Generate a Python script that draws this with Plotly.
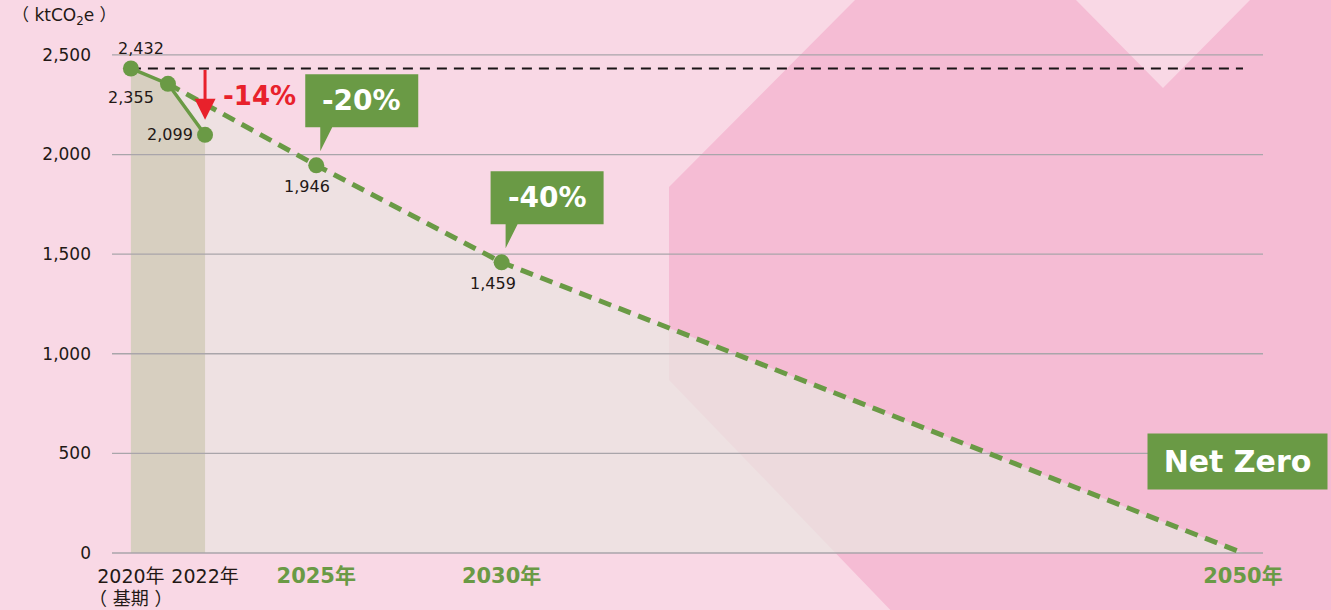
import plotly.graph_objects as go

# ---------------- data ----------------
ACTUAL_YEARS = [2020, 2021, 2022]
ACTUAL_VALUES = [2432, 2355, 2099]
TARGET_YEARS = [2025, 2030, 2050]
TARGET_VALUES = [1946, 1459, 0]
TARGET_LABELS = ["-20%", "-40%", "Net Zero"]
BASE_VALUE = 2432
BASE_NOTE = "（ 基期 ）"
REDUCTION_2022 = "-14%"
Y_TICKS = [0, 500, 1000, 1500, 2000, 2500]
X_TICK_YEARS = [2020, 2022, 2025, 2030, 2050]
X_TICK_TEXT = ["2020年", "2022年", "2025年", "2030年", "2050年"]
Y_UNIT = "（ ktCO<sub>2</sub>e ）"

# ---------------- style ----------------
GREEN = "#6a9a45"
DARK = "#231815"
RED = "#e8212b"
BG = "#f9d8e5"
SHAPE_PINK = "#f5bcd4"
GRID = "#a9a5aa"
FONT = "DejaVu Sans, Noto Sans CJK JP, sans-serif"

W, H = 1331, 610
M_L, M_R, M_T, M_B = 112, 68, 35, 55
X_RANGE = [2019.49, 2050.54]
Y_RANGE = [-10, 2600]
ARROW_TIP = 2175

fig = go.Figure()

# light fill under the reduction path
path_x = ACTUAL_YEARS[:2] + TARGET_YEARS
path_y = ACTUAL_VALUES[:2] + TARGET_VALUES
fig.add_trace(go.Scatter(x=path_x, y=path_y, fill="tozeroy",
                         fillcolor="rgba(234,228,224,0.75)", mode="lines",
                         line=dict(width=0), hoverinfo="skip"))
# darker fill under actual emissions
fig.add_trace(go.Scatter(x=ACTUAL_YEARS, y=ACTUAL_VALUES, fill="tozeroy",
                         fillcolor="rgba(213,206,190,0.96)", mode="lines",
                         line=dict(width=0), hoverinfo="skip"))
# gridlines drawn above the fills
gx, gy = [], []
for v in Y_TICKS:
    gx += [X_RANGE[0], X_RANGE[1], None]
    gy += [v, v, None]
fig.add_trace(go.Scatter(x=gx, y=gy, mode="lines",
                         line=dict(color=GRID, width=1.3), hoverinfo="skip"))
# base year reference dashed line
fig.add_trace(go.Scatter(x=[ACTUAL_YEARS[0], TARGET_YEARS[-1]], y=[BASE_VALUE, BASE_VALUE],
                         mode="lines", line=dict(color="#1a1416", width=2, dash="10px,7px"),
                         hoverinfo="skip"))
# target path (dashed green)
fig.add_trace(go.Scatter(x=[ACTUAL_YEARS[1]] + TARGET_YEARS,
                         y=[ACTUAL_VALUES[1]] + TARGET_VALUES,
                         mode="lines", line=dict(color=GREEN, width=5, dash="13px,8px"),
                         hoverinfo="skip"))
# actual line
fig.add_trace(go.Scatter(x=ACTUAL_YEARS, y=ACTUAL_VALUES, mode="lines+markers",
                         line=dict(color=GREEN, width=3.5),
                         marker=dict(size=16, color=GREEN)))
# target markers
fig.add_trace(go.Scatter(x=TARGET_YEARS[:2], y=TARGET_VALUES[:2], mode="markers",
                         marker=dict(size=16, color=GREEN)))

# ---------------- background decoration ----------------
def px2paper(px, py):
    pw = W - M_L - M_R
    ph = H - M_T - M_B
    return (px - M_L) / pw, (H - M_B - py) / ph

bg_pts = [(855, 0), (1076, 0), (1163, 88), (1250, 0), (1340, 0), (1340, 620),
          (900, 620), (669, 380), (669, 187)]
path = ""
for i, (px, py) in enumerate(bg_pts):
    a, b = px2paper(px, py)
    path += ("M" if i == 0 else "L") + f"{a:.5f},{b:.5f} "
path += "Z"
fig.add_shape(type="path", path=path, xref="paper", yref="paper",
              fillcolor=SHAPE_PINK, line=dict(width=0), layer="below")

# ---------------- data labels ----------------
label_style = [  # (xshift, yshift, xanchor) for actual points
    (10, 20, "center"),
    (-37, -14, "center"),
    (-10, 0, "right"),
]
for (xv, yv), (xs, ys, xa) in zip(zip(ACTUAL_YEARS, ACTUAL_VALUES), label_style):
    fig.add_annotation(x=xv, y=yv, text=f"{yv:,}", showarrow=False,
                       xshift=xs, yshift=ys, xanchor=xa,
                       font=dict(size=16, color=DARK))
for xv, yv in zip(TARGET_YEARS[:2], TARGET_VALUES[:2]):
    fig.add_annotation(x=xv, y=yv, text=f"{yv:,}", showarrow=False,
                       xshift=-9, yshift=-21, font=dict(size=16, color=DARK))

# callouts for 2025 and 2030
callout = "M-11,38 L-11,91 L102,91 L102,38 L16,38 L4,14 L4,38 Z"
for xv, yv, lab in zip(TARGET_YEARS[:2], TARGET_VALUES[:2], TARGET_LABELS[:2]):
    fig.add_shape(type="path", path=callout, xref="x", yref="y",
                  xsizemode="pixel", ysizemode="pixel", xanchor=xv, yanchor=yv,
                  fillcolor=GREEN, line=dict(width=0), layer="above")
    fig.add_annotation(x=xv, y=yv, text=f"<b>{lab}</b>", showarrow=False,
                       xshift=45.5, yshift=64.5,
                       font=dict(size=28, color="white"))

# Net Zero box
fig.add_annotation(x=TARGET_YEARS[2], y=TARGET_VALUES[2], text=f"<b>{TARGET_LABELS[2]}</b>",
                   showarrow=False, xshift=-5.5, yshift=91.5, bgcolor=GREEN,
                   width=175, height=51, borderpad=2,
                   font=dict(size=30, color="white"))

# red arrow and -14%
fig.add_annotation(x=ACTUAL_YEARS[2], y=ARROW_TIP, ax=ACTUAL_YEARS[2], ay=BASE_VALUE,
                   xref="x", yref="y", axref="x", ayref="y", text="",
                   showarrow=True, arrowhead=2, arrowsize=1.4, arrowwidth=3,
                   arrowcolor=RED)
fig.add_annotation(x=ACTUAL_YEARS[2], y=ACTUAL_VALUES[2], text=f"<b>{REDUCTION_2022}</b>",
                   showarrow=False, xshift=54, yshift=39,
                   font=dict(size=26, color=RED))

# base-year note under the 2020 tick
fig.add_annotation(x=ACTUAL_YEARS[0], y=0, text=BASE_NOTE, showarrow=False,
                   yshift=-45, font=dict(size=18, color=DARK))

# unit label
ux, uy = px2paper(10, 17)
fig.add_annotation(x=ux, y=uy, xref="paper", yref="paper", text=Y_UNIT,
                   showarrow=False, xanchor="left", yanchor="middle",
                   font=dict(size=17, color=DARK))

# ---------------- axes ----------------
tick_text = []
for yr, t in zip(X_TICK_YEARS, X_TICK_TEXT):
    if yr in TARGET_YEARS:
        tick_text.append(f"<b><span style='color:{GREEN};font-size:21px'>{t}</span></b>")
    else:
        tick_text.append(t)

fig.update_layout(
    width=W, height=H,
    margin=dict(l=M_L, r=M_R, t=M_T, b=M_B, autoexpand=False),
    paper_bgcolor=BG, plot_bgcolor="rgba(0,0,0,0)",
    showlegend=False,
    font=dict(family=FONT, color=DARK, size=16),
)
fig.update_xaxes(range=X_RANGE, tickvals=X_TICK_YEARS, ticktext=tick_text,
                 showgrid=False, zeroline=False, showline=False, ticks="",
                 tickfont=dict(size=19, color=DARK), ticklabelstandoff=8,
                 automargin=False, fixedrange=True)
fig.update_yaxes(range=Y_RANGE, tickvals=Y_TICKS, tickformat=",",
                 showgrid=False, zeroline=False, showline=False, ticks="",
                 tickfont=dict(size=17, color=DARK), ticklabelstandoff=20,
                 automargin=False, fixedrange=True)

fig.write_html("out.html", config={"displayModeBar": False},
               post_script="document.body.style.margin='0';document.body.style.overflow='hidden';")
